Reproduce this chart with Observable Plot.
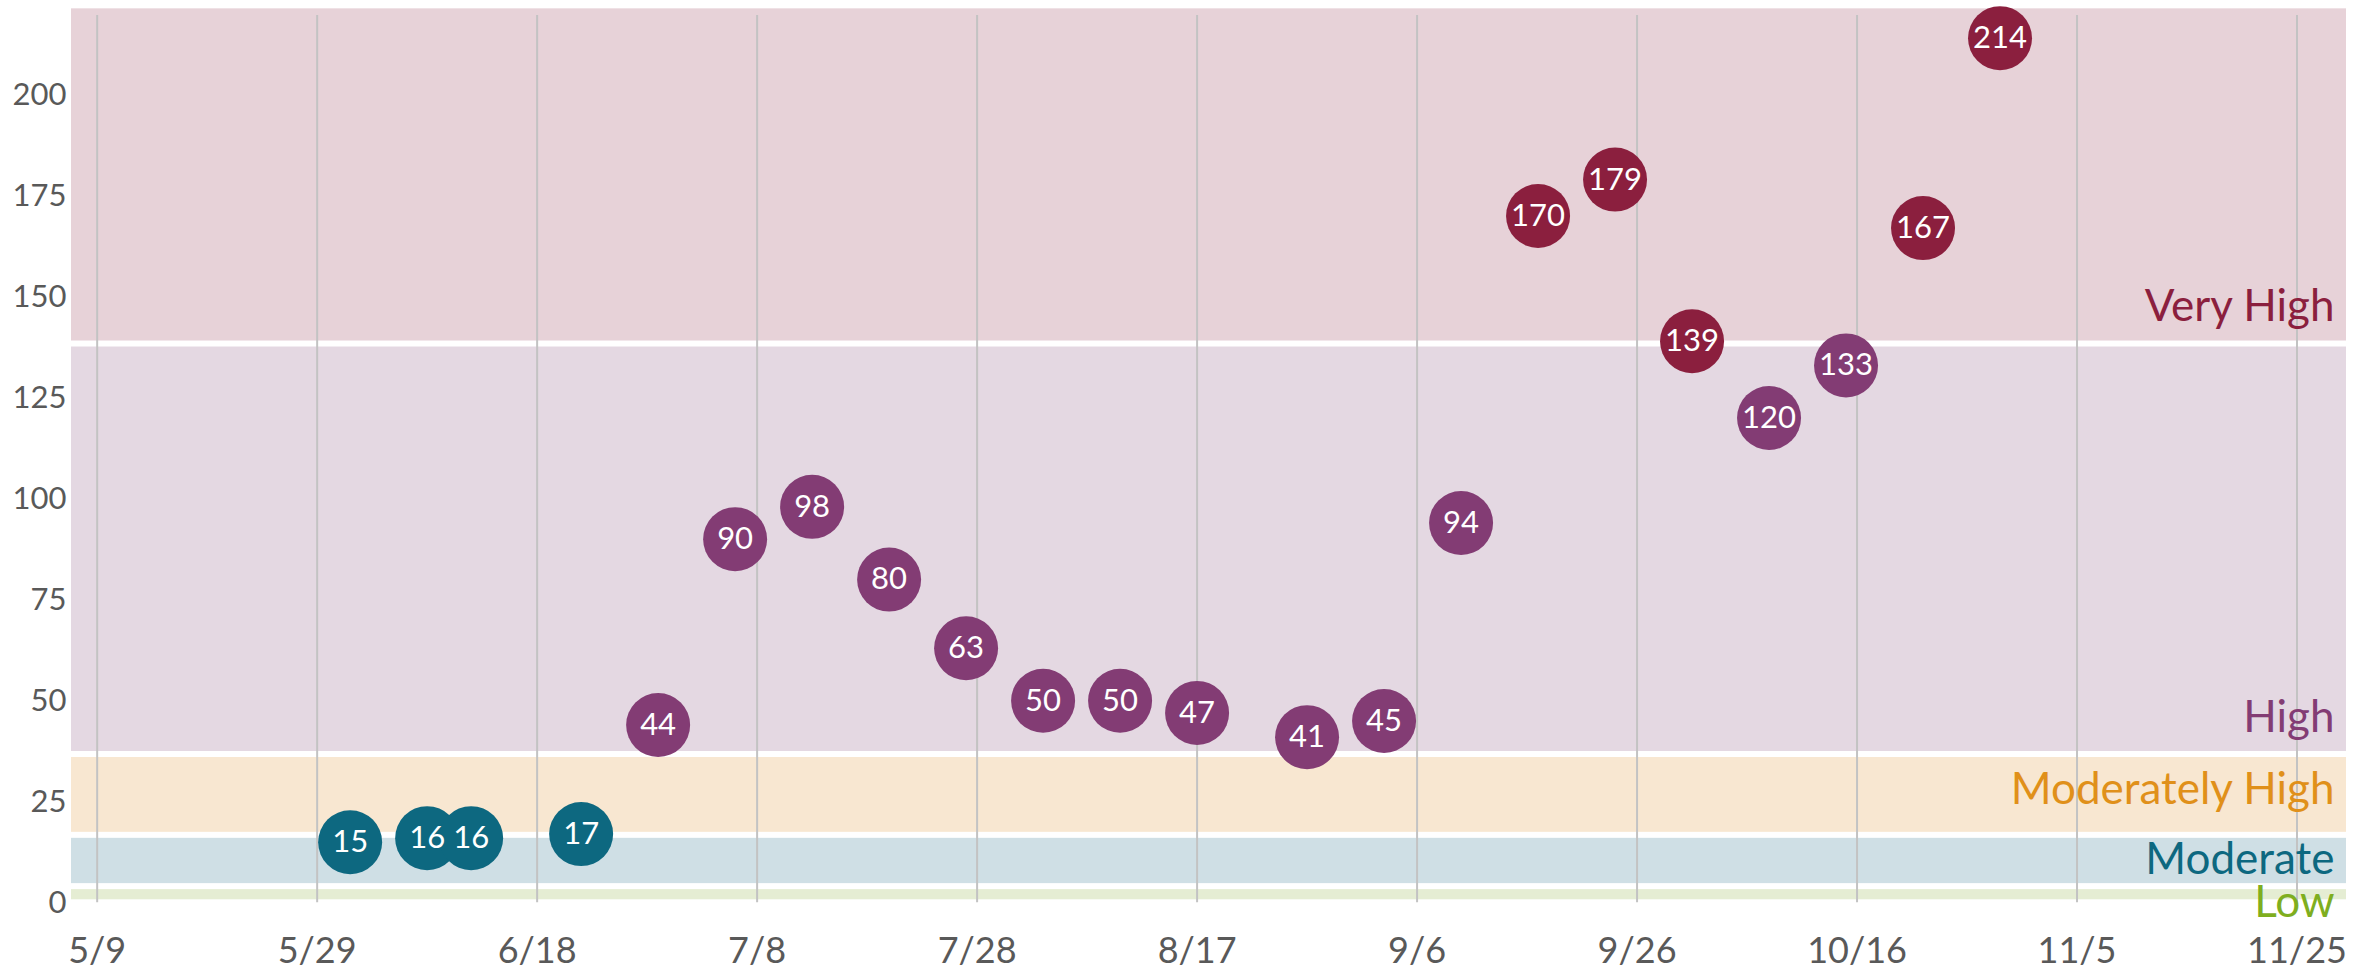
<!DOCTYPE html>
<html>
<head>
<meta charset="utf-8">
<script src="https://cdn.jsdelivr.net/npm/d3@7"></script>
<script src="https://cdn.jsdelivr.net/npm/@observablehq/plot@0.6"></script>
<style>
  html, body { margin: 0; padding: 0; background: #ffffff; }
  #chart svg { display: block; }
</style>
</head>
<body>
<div id="chart"></div>
<script>
// ---- data ----
const dates = ["2020-06-01","2020-06-08","2020-06-12","2020-06-22","2020-06-29","2020-07-06","2020-07-13","2020-07-20","2020-07-27","2020-08-03","2020-08-10","2020-08-17","2020-08-27","2020-09-03","2020-09-10","2020-09-17","2020-09-24","2020-10-01","2020-10-08","2020-10-15","2020-10-22","2020-10-29"];
const values = [15,16,16,17,44,90,98,80,63,50,50,47,41,45,94,170,179,139,120,133,167,214];
const levels = ["Moderate","Moderate","Moderate","Moderate","High","High","High","High","High","High","High","High","High","High","High","Very High","Very High","Very High","High","High","Very High","Very High"];

const bandNames = ["Low","Moderate","Moderately High","High","Very High"];
const bandLower = [0, 4, 16.7, 36.7, 138.3];
const bandUpper = [4, 16.7, 36.7, 138.3, 222];
const bandLabelAt = [-3.6, 7.25, 24.4, 42.3, 143.9];
const levelColors = ["#7fae1f","#0d6880","#e0901a","#833c74","#8b1f3e"];
const bandFills = ["#e5edd3","#cfdfe5","#f8e7d1","#e4d8e2","#e7d2d8"];

const xTickLabels = ["2020-05-09","2020-05-29","2020-06-18","2020-07-08","2020-07-28","2020-08-17","2020-09-06","2020-09-26","2020-10-16","2020-11-05","2020-11-25"];
const yTicks = [0,25,50,75,100,125,150,175,200];

// ---- tables built from the arrays ----
const points = dates.map((d, i) => ({date: new Date(d), value: values[i], level: levels[i]}));
const bands = bandNames.map((n, i) => ({name: n, lo: bandLower[i], hi: bandUpper[i], at: bandLabelAt[i]}));
const xTicks = xTickLabels.map(d => new Date(d));
const colorOf = name => levelColors[bandNames.indexOf(name)];
const fillOf = name => bandFills[bandNames.indexOf(name)];
const fmt = d => `${d.getUTCMonth() + 1}/${d.getUTCDate()}`;

const chart = Plot.plot({
  width: 2376,
  height: 971,
  marginLeft: 71,
  marginRight: 30,
  marginTop: 11,
  marginBottom: 68.7,
  style: {fontFamily: "Lato, 'Open Sans', sans-serif", background: "#ffffff"},
  x: {type: "utc", domain: [new Date(Date.UTC(2020, 4, 6, 16)), new Date(Date.UTC(2020, 10, 29, 12))]},
  y: {domain: [0, 220.6]},
  color: {type: "identity"},
  marks: [
    Plot.rect(bands, {y1: "lo", y2: "hi", fill: d => fillOf(d.name), insetTop: 3, insetBottom: 3}),
    Plot.ruleX(xTicks, {x: d => d, y1: 0, y2: 219.6, stroke: "#c3c3c3", strokeWidth: 2}),
    Plot.text(bands, {y: "at", text: "name", frameAnchor: "right", dx: -12, textAnchor: "end", lineAnchor: "bottom", fill: d => colorOf(d.name), fontSize: 44}),
    Plot.dot(points, {x: "date", y: "value", r: 32, fill: d => colorOf(d.level), stroke: null}),
    Plot.text(points, {x: "date", y: "value", text: d => String(d.value), fill: "#ffffff", fontSize: 31}),
    Plot.axisX({ticks: xTicks, tickFormat: fmt, tickSize: 0, tickPadding: 35, fontSize: 36, fill: "#595959", label: null}),
    Plot.axisY({ticks: yTicks, tickSize: 0, tickPadding: 5, fontSize: 31, fill: "#595959", label: null})
  ]
});
document.getElementById("chart").appendChild(chart);
</script>
</body>
</html>
